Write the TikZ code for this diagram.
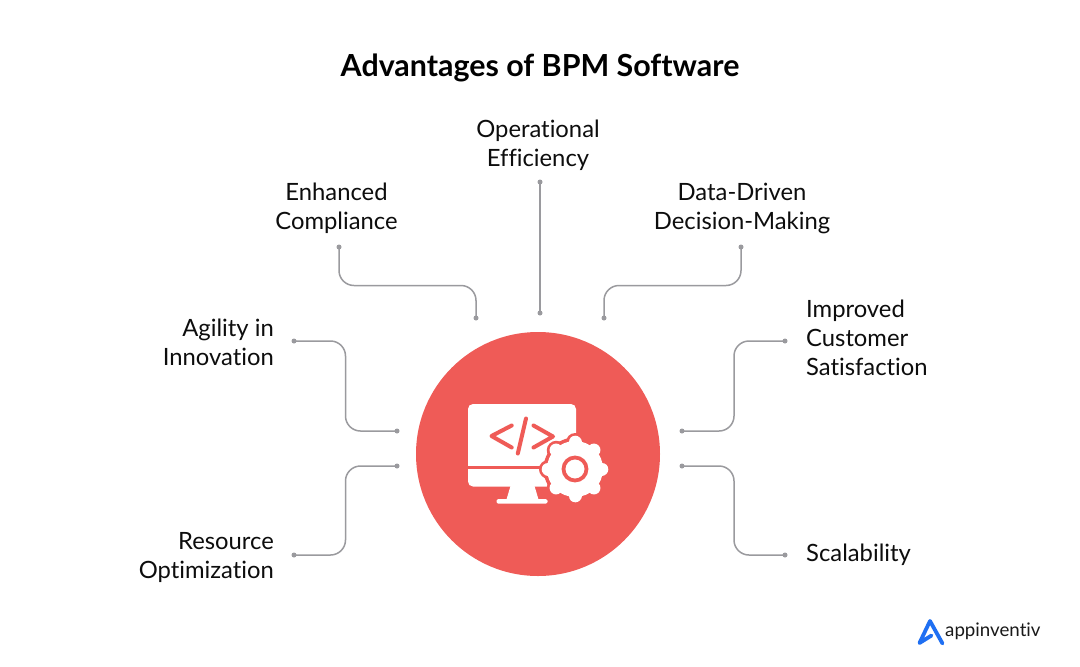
\documentclass[tikz,border=0pt]{standalone}
\usepackage{fontspec}
\setmainfont[Ligatures=CommonOff]{Lato}
\definecolor{coral}{HTML}{EF5B57}
\definecolor{linegray}{HTML}{9A9A9E}
\definecolor{logoblue}{HTML}{1F6FF2}
\tikzset{
  lbl/.style={inner sep=0pt,font=\fontsize{23.8}{29}\selectfont,text=black!95},
  wire/.style={draw=linegray,line width=1.5pt,rounded corners=15pt},
  tip/.style={circle,fill=linegray,draw=none,inner sep=0pt,minimum size=5pt},
}
\begin{document}
\begin{tikzpicture}[x=1pt,y=-1pt]
\useasboundingbox (0,0) rectangle (1080,667);
\fill[white] (0,0) rectangle (1080,667);
\node[inner sep=0pt,font=\fontsize{30.4}{34}\selectfont\bfseries] (title) at (540,67.5) {Advantages of BPM Software};
% labels
\node[lbl,align=center] (op) at (538,145.5) {Operational\\Efficiency};
\node[lbl,align=center] (enh) at (336.5,208.5) {Enhanced\\Compliance};
\node[lbl,align=center] (data) at (742,208.5) {Data-Driven\\Decision-Making};
\node[lbl,align=right,anchor=east] (agi) at (274,342.5) {Agility in\\Innovation};
\node[lbl,align=right,anchor=east] (res) at (274,557.5) {Resource\\Optimization};
\node[lbl,align=left,anchor=west] (imp) at (806,337.5) {Improved\\Customer\\Satisfaction};
\node[lbl,anchor=west] (sca) at (806,555) {Scalability};
% tips
\foreach \n/\x/\y in {a1/339/247,a2/476/318,b1/540/182,b2/540/313,c1/741/247,c2/604/318,
  d1/294/341,d2/397/431,e1/294/555,e2/397/466,f1/785/341,f2/682/431,g1/785/555,g2/682/466}
  \node[tip] (\n) at (\x,\y) {};
% connectors
\draw[wire] (a1.center) -- (a1.center |- 0,285.5) -- (a2.center |- 0,285.5) -- (a2.center);
\draw[wire] (b1.center) -- (b2.center);
\draw[wire] (c1.center) -- (c1.center |- 0,285.5) -- (c2.center |- 0,285.5) -- (c2.center);
\draw[wire] (d1.center) -- (345.5,341) -- (345.5,431) -- (d2.center);
\draw[wire] (e1.center) -- (345.5,555) -- (345.5,466) -- (e2.center);
\draw[wire] (f1.center) -- (734,341) -- (734,431) -- (f2.center);
\draw[wire] (g1.center) -- (734,555) -- (734,466) -- (g2.center);
% hub
\node[circle,fill=coral,draw=none,minimum size=244pt,inner sep=0pt] (hub) at (538,454) {};
% monitor
\fill[white,rounded corners=5pt] (468,404) rectangle (576,486.5);
\fill[white] (510.5,486) -- (534.5,486) -- (538.5,499.5) -- (506.5,499.5) -- cycle;
\fill[white,rounded corners=1.5pt] (496.5,499) rectangle (547.5,503.5);
\fill[coral] (468,465.6) rectangle (576,468.8);
% code glyph
\begin{scope}[draw=coral,line width=4pt,line cap=round,line join=round]
\draw (511.7,425.5) -- (491.5,436) -- (511.7,447.5);
\draw (526,418.5) -- (517.8,453.5);
\draw (533.5,425.5) -- (553,436.5) -- (533.5,447.5);
\end{scope}
% gear
\fill[coral] (575,469) circle (31.5);
\foreach \a in {0,45,...,315}
  \draw[coral,line width=19pt,line cap=round] (575,469) -- +(\a:26.5);
\fill[white] (575,469) circle (28);
\foreach \a in {0,45,...,315}
  \draw[white,line width=13pt,line cap=round] (575,469) -- +(\a:26.8);
\draw[coral,line width=3.8pt] (575,469) circle (11.5);
% logo
\draw[logoblue,line width=3.8pt,line cap=round,line join=round]
  (942.5,643.5) -- (930,621) -- (919.5,643) -- (931.5,635.5);
\node[inner sep=0pt,anchor=west,font=\fontsize{18.7}{22}\selectfont,text=black!90] (logo) at (945,631.5) {appinventiv};
\end{tikzpicture}
\end{document}
